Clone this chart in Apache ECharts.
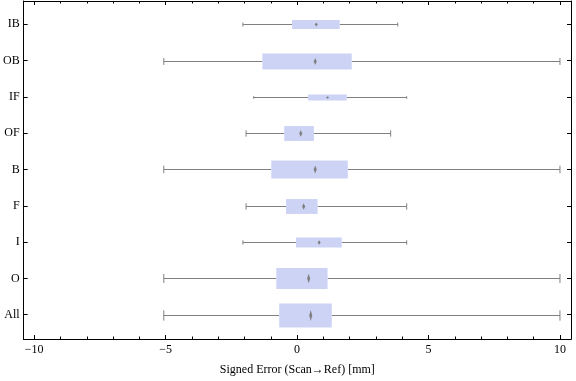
<!DOCTYPE html>
<html>
<head>
<meta charset="utf-8">
<script src="https://cdn.jsdelivr.net/npm/echarts@6/dist/echarts.min.js"></script>
<style>html,body{margin:0;padding:0;background:#fff}#c{width:576px;height:381px}</style>
</head>
<body>
<div id="c"></div>
<script>
// Categories, top to bottom
var categories = ['IB', 'OB', 'IF', 'OF', 'B', 'F', 'I', 'O', 'All'];
// Box-whisker statistics (mm)
var whiskerLow  = [-2.06, -5.07, -1.65, -1.94, -5.07, -1.94, -2.06, -5.07, -5.07];
var q1          = [-0.19, -1.32,  0.42, -0.49, -0.98, -0.42, -0.04, -0.79, -0.68];
var median      = [ 0.73,  0.69,  1.16,  0.14,  0.69,  0.25,  0.84,  0.44,  0.52];
var q3          = [ 1.62,  2.08,  1.89,  0.64,  1.93,  0.78,  1.70,  1.16,  1.32];
var whiskerHigh = [ 3.83, 10.00,  4.17,  3.56, 10.00,  4.17,  4.17, 10.00, 10.00];
// Relative box thickness (fraction of category spacing), as drawn
var boxWeight   = [0.25, 0.44, 0.165, 0.41, 0.49, 0.41, 0.275, 0.575, 0.66];
var xTickLabels = [-10, -5, 0, 5, 10];

var n = categories.length;
var data = categories.map(function (c, i) {
  return [n - i, whiskerLow[i], q1[i], median[i], q3[i], whiskerHigh[i], boxWeight[i]];
});
var catPos = categories.map(function (c, i) { return n - i; });
var minorVals = [];
for (var v = -10; v <= 10; v++) minorVals.push(v);

var FONT = 'Liberation Serif';
var XMIN = -10.4, XMAX = 10.42, YMIN = 0.33, YMAX = 9.64;
var frameColor = '#000';

function xAxisDef(pos, major, labels) {
  return {
    type: 'value', position: pos, min: XMIN, max: XMAX,
    axisLine: { show: true, onZero: false, lineStyle: { color: frameColor, width: 1 } },
    splitLine: { show: false },
    axisTick: { show: true, inside: true, length: major ? 4 : 2.5,
      customValues: major ? xTickLabels : minorVals,
      lineStyle: { color: frameColor, width: 1 } },
    axisLabel: { show: labels, customValues: xTickLabels, margin: 5,
      fontFamily: FONT, fontSize: 12, color: '#000',
      formatter: function (v) { return v < 0 ? '\u2212' + Math.abs(v) : String(v); } },
    name: labels ? 'Signed Error (Scan\u2192Ref) [mm]' : '',
    nameLocation: 'middle', nameGap: 25,
    nameTextStyle: { fontFamily: FONT, fontSize: 12, color: '#000' }
  };
}
function yAxisDef(pos, labels) {
  return {
    type: 'value', position: pos, min: YMIN, max: YMAX,
    axisLine: { show: true, onZero: false, lineStyle: { color: frameColor, width: 1 } },
    splitLine: { show: false },
    axisTick: { show: true, inside: true, length: 4, customValues: catPos,
      lineStyle: { color: frameColor, width: 1 } },
    axisLabel: { show: labels, customValues: catPos, margin: 4,
      fontFamily: FONT, fontSize: 12, color: '#000',
      formatter: function (v) { return categories[n - Math.round(v)] || ''; } }
  };
}

var chart = echarts.init(document.getElementById('c'), null, { renderer: 'canvas' });
chart.setOption({
  animation: false,
  grid: { left: 20, right: 5, top: 1, bottom: 40, containLabel: false },
  xAxis: [xAxisDef('bottom', true, true), xAxisDef('bottom', false, false),
          xAxisDef('top', true, false), xAxisDef('top', false, false)],
  yAxis: [yAxisDef('left', true), yAxisDef('right', false)],
  series: [{
    type: 'custom',
    xAxisIndex: 0, yAxisIndex: 0,
    data: data,
    encode: { x: [1, 2, 3, 4, 5], y: 0 },
    renderItem: function (params, api) {
      var y = api.value(0);
      var lo = api.coord([api.value(1), y]);
      var b1 = api.coord([api.value(2), y]);
      var md = api.coord([api.value(3), y]);
      var b3 = api.coord([api.value(4), y]);
      var hi = api.coord([api.value(5), y]);
      var h = api.size([0, api.value(6)])[1];
      var cy = Math.round(lo[1]) + 0.5;
      var capH = h * 0.43;
      var dH = h * 0.45, dW = 3;
      var gray = '#808080';
      var lineStyle = { stroke: gray, lineWidth: 1 };
      return {
        type: 'group',
        children: [
          { type: 'line', shape: { x1: lo[0], y1: cy, x2: b1[0], y2: cy }, style: lineStyle },
          { type: 'line', shape: { x1: b3[0], y1: cy, x2: hi[0], y2: cy }, style: lineStyle },
          { type: 'line', shape: { x1: lo[0], y1: cy - capH / 2, x2: lo[0], y2: cy + capH / 2 }, style: lineStyle },
          { type: 'line', shape: { x1: hi[0], y1: cy - capH / 2, x2: hi[0], y2: cy + capH / 2 }, style: lineStyle },
          { type: 'rect', shape: { x: b1[0], y: cy - h / 2, width: b3[0] - b1[0], height: h },
            style: { fill: '#cdd3f5' } },
          { type: 'polygon', shape: { points: [[md[0], cy - dH / 2], [md[0] + dW / 2, cy], [md[0], cy + dH / 2], [md[0] - dW / 2, cy]] },
            style: { fill: '#7f7f7f' } }
        ]
      };
    }
  }]
});
</script>
</body>
</html>
